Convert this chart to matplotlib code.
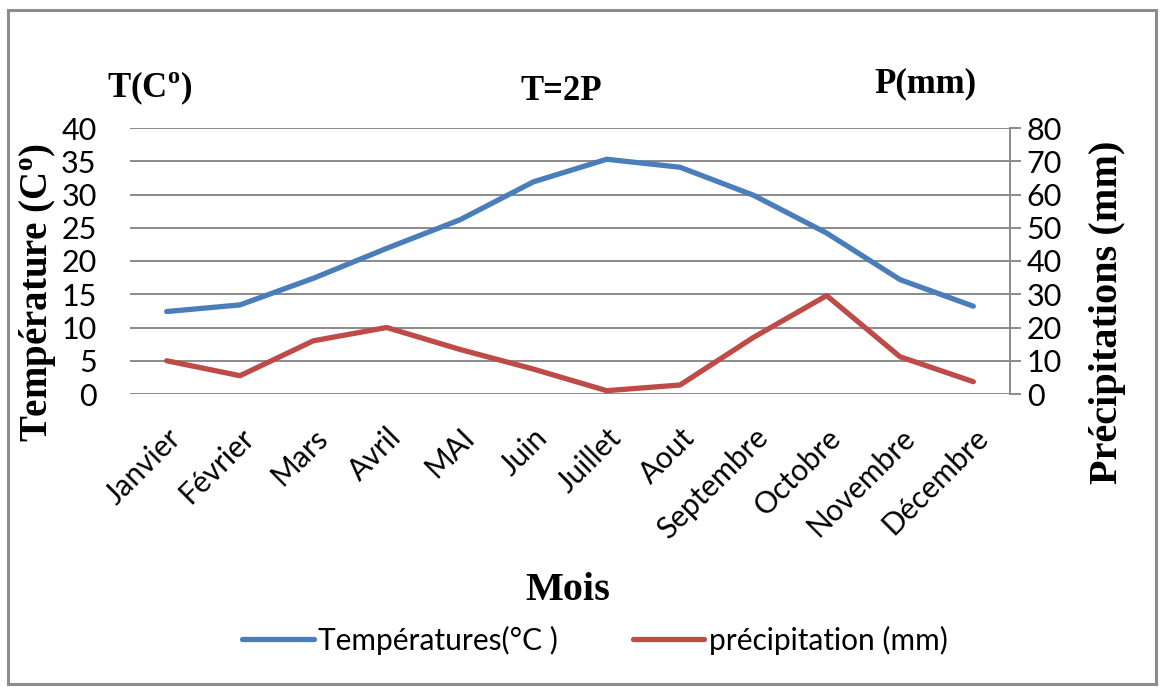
import matplotlib.pyplot as plt
from matplotlib.patches import Rectangle

# data
mois = ["Janvier", "Février", "Mars", "Avril", "MAI", "Juin", "Juillet",
        "Aout", "Septembre", "Octobre", "Novembre", "Décembre"]
temperature = [12.4, 13.4, 17.4, 21.9, 26.2, 31.9, 35.3, 34.1, 29.9, 24.2, 17.2, 13.2]
precipitation = [10.0, 5.5, 16.0, 20.0, 13.4, 7.5, 1.0, 2.7, 17.0, 29.6, 11.2, 3.7]

# superscript "o" in the bold serif titles
plt.rcParams["mathtext.fontset"] = "custom"
plt.rcParams["mathtext.rm"] = "Liberation Serif:bold"

W, H = 1162, 687
fig = plt.figure(figsize=(W / 100, H / 100), dpi=100)

# outer frame
fig.patches.append(Rectangle((8 / W, 0.004), 1148 / W, (H - 10) / H - 0.004,
                             transform=fig.transFigure, fill=False,
                             edgecolor="#8c8c8c", linewidth=2.2))

ax = fig.add_axes([130 / W, (H - 394) / H, 880 / W, 266 / H])
ax2 = ax.twinx()

x = list(range(len(mois)))
ax.plot(x, temperature, color="#4A7EBB", linewidth=3.8, solid_capstyle="round",
        label="Températures(°C )")
ax2.plot(x, precipitation, color="#BE4B48", linewidth=3.8, solid_capstyle="round",
         label="précipitation (mm)")

ax.set_xlim(-0.5, 11.5)
ax.set_ylim(0, 40)
ax2.set_ylim(0, 80)
ax.set_yticks(range(0, 41, 5))
ax2.set_yticks(range(0, 81, 10))
ax.yaxis.grid(True, color="#8a8a8a", linewidth=1.4)
ax.set_axisbelow(True)

for a in (ax, ax2):
    for s in a.spines.values():
        s.set_visible(False)
ax2.spines["right"].set_visible(True)
ax2.spines["right"].set_color("#8a8a8a")
ax2.spines["right"].set_linewidth(1.4)

tickfont = "Lato"
ax.tick_params(axis="y", length=0, pad=24, labelsize=22)
ax2.tick_params(axis="y", length=8, width=1.4, color="#8a8a8a", pad=4, labelsize=22)
ax.tick_params(axis="x", length=0, pad=21)
for lab in ax.get_yticklabels() + ax2.get_yticklabels():
    lab.set_family(tickfont)

ax.set_xticks(x)
ax.set_xticklabels(mois, rotation=45, ha="right", va="top",
                   rotation_mode="anchor", fontsize=21.5, family=tickfont)

serif = "Liberation Serif"
fig.text(150 / W, 1 - 88 / H, r"T(C$^{\mathrm{o}}$)", fontsize=25, fontweight="bold",
         family=serif, ha="center", va="center")
fig.text(561 / W, 1 - 92 / H, "T=2P", fontsize=25, fontweight="bold",
         family=serif, ha="center", va="center")
fig.text(925 / W, 1 - 84 / H, "P(mm)", fontsize=25, fontweight="bold",
         family=serif, ha="center", va="center")
fig.text(38 / W, 1 - 292 / H, r"Température (C$^{\mathrm{o}}$)", fontsize=28,
         fontweight="bold", family=serif, ha="center", va="center", rotation=90)
fig.text(1108 / W, 1 - 312 / H, "Précipitations (mm)", fontsize=29, fontweight="bold",
         family=serif, ha="center", va="center", rotation=90)
fig.text(568 / W, 1 - 590 / H, "Mois", fontsize=29, fontweight="bold",
         family=serif, ha="center", va="center")

h1, l1 = ax.get_legend_handles_labels()
h2, l2 = ax2.get_legend_handles_labels()
fig.legend(h1 + h2, l1 + l2, loc="center", bbox_to_anchor=(595 / W, 1 - 640 / H),
           ncol=2, frameon=False, prop={"family": tickfont, "size": 21.5},
           handlelength=2.4, handletextpad=0.15, columnspacing=2.5)

plt.savefig("out.png", dpi=100)
